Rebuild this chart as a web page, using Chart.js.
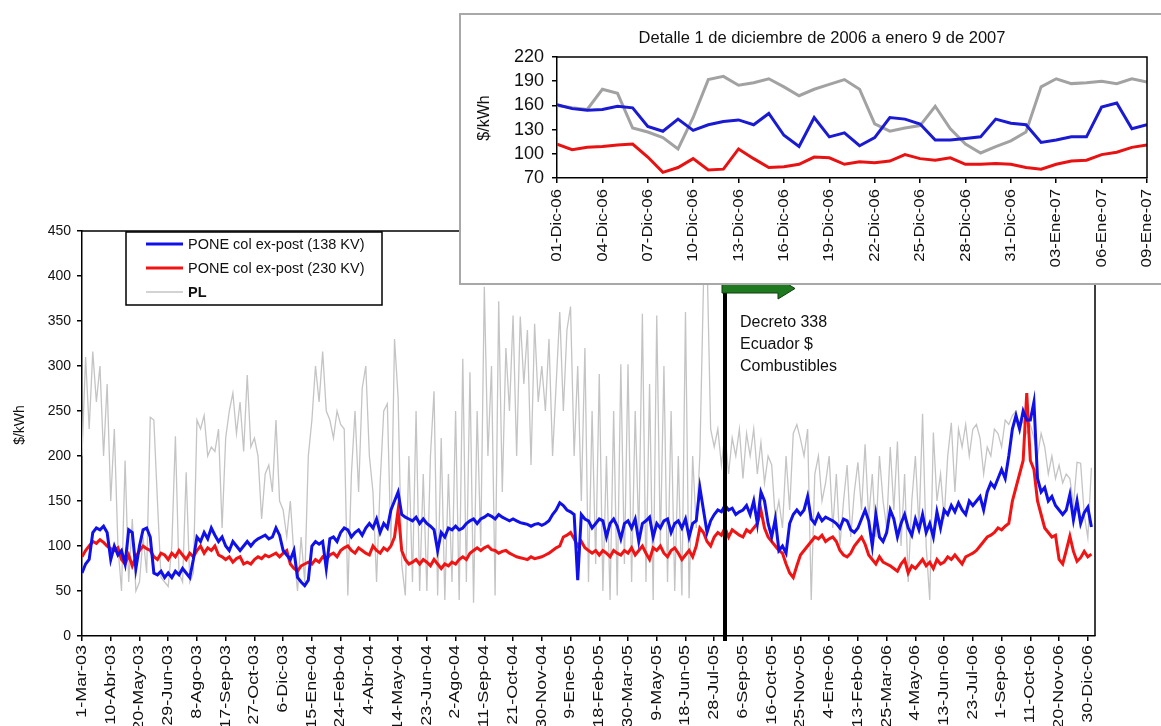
<!DOCTYPE html>
<html><head><meta charset="utf-8">
<script src="https://cdn.jsdelivr.net/npm/chart.js@4.4.0/dist/chart.umd.min.js"></script>
<style>
html,body{margin:0;padding:0;background:#fff;width:1161px;height:726px;overflow:hidden;}
#main{position:absolute;left:0;top:0;}
#insetBox{position:absolute;left:459px;top:13px;width:720px;height:268px;border:2px solid #a8a8a8;background:#fff;}
#inset{position:absolute;left:0;top:0;}
</style></head><body>
<canvas id="main" width="1161" height="726"></canvas>
<div id="insetBox"><canvas id="inset" width="700" height="268"></canvas></div>
<script>
// ---------- DATA ----------
const mainTickLabels = ['1-Mar-03','10-Abr-03','20-May-03','29-Jun-03','8-Ago-03','17-Sep-03','27-Oct-03','6-Dic-03','15-Ene-04','24-Feb-04','4-Abr-04','14-May-04','23-Jun-04','2-Ago-04','11-Sep-04','21-Oct-04','30-Nov-04','9-Ene-05','18-Feb-05','30-Mar-05','9-May-05','18-Jun-05','28-Jul-05','6-Sep-05','16-Oct-05','25-Nov-05','4-Ene-06','13-Feb-06','25-Mar-06','4-May-06','13-Jun-06','23-Jul-06','1-Sep-06','11-Oct-06','20-Nov-06','30-Dic-06'];
const tickStepDays = 40;
const sampleStepDays = 5;
const totalDays = 1410;
const seriesNames = ['PONE col ex-post (138 KV)','PONE col ex-post (230 KV)','PL'];
const mainYTicks = [0,50,100,150,200,250,300,350,400,450];

const blueMain = [
70,80,85,115,120,118,122,115,
85,100,90,95,80,118,115,75,
100,118,120,110,70,68,72,65,
70,65,72,68,75,70,65,85,
110,105,115,108,120,112,105,110,
100,95,105,100,95,100,105,100,
105,108,110,112,108,110,120,112,
95,90,85,95,65,60,56,62,
100,105,102,105,75,108,110,105,
115,120,118,110,115,118,112,120,
125,120,130,115,125,120,140,150,
160,135,132,130,128,132,125,130,
125,122,118,95,115,110,120,118,
122,118,120,125,128,130,125,130,
132,135,133,130,135,132,130,128,
130,128,126,125,124,122,124,125,
123,125,128,135,140,148,145,140,
138,135,62,135,130,128,120,125,
130,128,110,125,130,122,108,125,
128,120,130,105,125,128,132,110,
125,120,128,130,115,125,128,120,
130,110,125,128,165,140,115,128,
135,140,138,145,140,142,135,138,
140,145,135,150,125,160,150,125,
110,130,95,100,92,125,135,140,
135,140,155,130,125,135,128,132,
130,128,125,120,130,128,118,115,
120,130,140,128,100,135,110,105,
115,140,130,110,125,135,120,112,
130,118,135,115,125,110,138,120,
140,135,145,138,148,140,135,150,
145,150,155,140,160,170,165,175,
185,175,200,230,245,230,250,240,
240,260,175,160,165,150,155,145,
140,135,140,157,129,150,125,137,
143,121];

const redMain = [
88,95,100,105,103,107,104,100,
97,95,98,85,80,90,78,88,
95,100,97,95,88,85,92,90,
85,92,88,95,90,85,92,88,
95,100,92,98,95,100,90,88,
85,88,82,86,88,80,82,80,
85,88,86,90,88,90,92,88,
92,95,80,75,72,78,80,82,
80,85,82,88,85,90,92,88,
95,98,100,95,92,98,95,92,
90,100,95,92,98,95,100,110,
140,95,85,80,82,85,80,85,
82,78,85,80,75,80,78,82,
80,85,88,85,92,95,98,95,
98,100,96,95,92,94,95,92,
90,88,87,86,85,88,86,87,
88,90,92,95,98,100,110,112,
115,108,100,105,98,95,92,95,
90,95,92,88,95,92,90,95,
92,98,90,95,100,92,85,98,
95,100,92,88,95,98,92,85,
90,95,88,100,120,115,105,100,
110,115,112,120,110,118,115,112,
110,118,115,120,125,140,120,110,
105,100,95,92,80,70,65,78,
90,95,100,105,110,108,112,105,
108,110,105,95,90,88,92,100,
105,110,102,90,85,80,88,82,
80,78,75,72,80,85,70,78,
75,80,85,78,82,75,85,80,
82,88,85,90,85,80,88,90,
92,95,100,105,110,112,115,120,
118,122,125,150,165,180,195,270,
195,185,150,135,120,115,110,112,
85,80,95,111,94,83,87,94,
88,91];

const grayMain = [
200,310,230,316,260,300,200,280,
150,230,100,50,195,60,130,50,
60,110,70,243,240,150,65,60,
55,100,222,70,60,182,60,70,
240,230,245,200,210,205,230,120,
220,250,270,225,260,205,290,210,
220,200,130,180,190,160,240,150,
140,110,150,90,50,110,60,200,
240,300,260,316,250,240,220,250,
235,230,45,180,250,160,275,300,
200,160,60,170,250,258,100,330,
265,80,45,200,60,250,50,180,
50,200,272,45,220,40,180,60,
250,40,308,60,293,37,250,100,
388,200,300,45,372,160,320,250,
356,200,355,280,340,190,347,260,
300,250,330,200,280,360,250,340,
366,200,300,150,320,60,250,80,
291,50,200,40,250,45,302,80,
302,60,250,110,358,60,280,40,
356,100,300,60,250,50,200,45,
360,42,200,120,200,390,420,230,
210,230,190,225,180,220,200,230,
175,225,200,230,180,215,170,200,
190,130,150,120,200,140,225,235,
219,200,230,40,180,200,150,170,
200,120,180,100,150,190,110,160,
193,140,213,130,180,110,200,150,
120,210,140,216,100,180,60,150,
200,120,247,100,40,226,150,180,
130,200,237,160,230,210,235,200,
230,235,220,180,210,200,230,225,
210,240,235,245,250,230,240,225,
235,220,200,225,210,180,200,175,
190,170,180,175,145,193,192,135,
109,187];

const eventDay = 895;
const annotationLines = ['Decreto 338','Ecuador $','Combustibles'];

// inset: 1 Dec 2006 .. 9 Jan 2007 (daily)
const insetTitle = 'Detalle 1 de diciembre de 2006 a enero 9 de 2007';
const insetTickLabels = ['01-Dic-06','04-Dic-06','07-Dic-06','10-Dic-06','13-Dic-06','16-Dic-06','19-Dic-06','22-Dic-06','25-Dic-06','28-Dic-06','31-Dic-06','03-Ene-07','06-Ene-07','09-Ene-07'];
const insetTickStep = 3;
const insetYTicks = [70,100,130,160,190,220];
const insetGray = [160,157,155,180,175,132,127,120,106,145,192,196,185,188,193,183,172,180,186,192,180,137,128,132,135,159,131,112,101,109,116,127,183,193,187,188,190,187,193,189];
const insetBlue = [161,156,154,155,159,157,134,128,143,129,136,140,142,136,150,123,109,145,121,126,110,120,145,143,137,117,117,119,121,143,138,136,114,117,121,121,158,163,131,136];
const insetRed = [112,105,108,109,111,112,96,77,83,94,80,81,106,94,83,84,87,96,95,87,90,89,91,99,94,92,95,87,87,88,87,83,81,87,91,92,99,102,108,111];
const yTitle = '$/kWh';

// ---------- STYLE ----------
const FONT = "'Liberation Sans', Arial, Helvetica, sans-serif";
const C_BLUE = '#1010e8', C_RED = '#f01414', C_GRAY = '#c4c4c4', C_GRAY_IN = '#a2a2a2';

const toPts = (arr, step) => arr.map((v, i) => ({x: i * step, y: v}));

const axisGrid = {drawOnChartArea:false, drawTicks:true, tickLength:5, color:'#000', lineWidth:1.5};
const axisBorder = {display:true, color:'#000', width:1.5};

// draws rotated x labels (stretched along the text, like the source image)
function drawXLabels(chart, labels, offset, size, stretch){
  const ctx = chart.ctx, xs = chart.scales.x, a = chart.chartArea;
  ctx.save();
  ctx.fillStyle = '#111'; ctx.font = size + 'px ' + FONT;
  ctx.textAlign = 'right'; ctx.textBaseline = 'middle';
  xs.ticks.forEach((t, i) => {
    const x = xs.getPixelForValue(t.value);
    ctx.save(); ctx.translate(x, a.bottom + offset); ctx.rotate(-Math.PI/2); ctx.scale(stretch, 1);
    ctx.fillText(labels[i], 0, 0); ctx.restore();
  });
  ctx.restore();
}

const mainDecor = {
  id:'mainDecor',
  afterDraw(chart){
    const ctx = chart.ctx, a = chart.chartArea, xs = chart.scales.x;
    drawXLabels(chart, mainTickLabels, 9, 14, 1.28);
    ctx.save();
    // frame
    ctx.strokeStyle = '#000'; ctx.lineWidth = 1.5;
    ctx.beginPath(); ctx.moveTo(a.left, a.top); ctx.lineTo(a.right, a.top); ctx.lineTo(a.right, a.bottom); ctx.stroke();
    // y title
    ctx.fillStyle = '#111'; ctx.font = '14px ' + FONT; ctx.textAlign = 'center'; ctx.textBaseline = 'middle';
    ctx.save(); ctx.translate(20, 425); ctx.rotate(-Math.PI/2); ctx.fillText(yTitle, 0, 0); ctx.restore();
    // event line
    const ex = xs.getPixelForValue(eventDay);
    ctx.strokeStyle = '#000'; ctx.lineWidth = 4;
    ctx.beginPath(); ctx.moveTo(ex, 283); ctx.lineTo(ex, a.bottom + 5); ctx.stroke();
    // arrow
    ctx.fillStyle = '#1f7a1f'; ctx.strokeStyle = '#0c3e0c'; ctx.lineWidth = 1;
    ctx.beginPath();
    ctx.moveTo(ex - 3, 284); ctx.lineTo(ex + 53, 284); ctx.lineTo(ex + 53, 278);
    ctx.lineTo(ex + 70, 288.5); ctx.lineTo(ex + 53, 299); ctx.lineTo(ex + 53, 293);
    ctx.lineTo(ex - 3, 293); ctx.closePath(); ctx.fill(); ctx.stroke();
    // annotation
    ctx.fillStyle = '#111'; ctx.font = '16px ' + FONT; ctx.textAlign = 'left'; ctx.textBaseline = 'middle';
    annotationLines.forEach((t, i) => ctx.fillText(t, 740, 323 + i * 22));
    // legend box
    ctx.fillStyle = '#fff'; ctx.fillRect(126, 232, 256, 73);
    ctx.strokeStyle = '#000'; ctx.lineWidth = 1.5; ctx.strokeRect(126, 232, 256, 73);
    chart.data.datasets.forEach((ds, i) => {
      const y = 244 + i * 24;
      ctx.strokeStyle = ds.borderColor; ctx.lineWidth = ds.borderWidth;
      ctx.beginPath(); ctx.moveTo(146, y); ctx.lineTo(183, y); ctx.stroke();
      ctx.fillStyle = '#111'; ctx.font = (i === 2 ? 'bold ' : '') + '14.5px ' + FONT;
      ctx.fillText(ds.label, 188, y + 1);
    });
    ctx.restore();
  }
};

new Chart(document.getElementById('main'), {
  type:'line',
  data:{datasets:[
    {label:seriesNames[0], data:toPts(blueMain, sampleStepDays), borderColor:C_BLUE, borderWidth:3, pointRadius:0, tension:0},
    {label:seriesNames[1], data:toPts(redMain, sampleStepDays), borderColor:C_RED, borderWidth:3, pointRadius:0, tension:0},
    {label:seriesNames[2], data:toPts(grayMain, sampleStepDays), borderColor:C_GRAY, borderWidth:1.3, pointRadius:0, tension:0}
  ]},
  options:{
    responsive:false, animation:false, devicePixelRatio:1,
    layout:{padding:{left:0, top:231, right:66, bottom:0}},
    plugins:{legend:{display:false}, tooltip:{enabled:false}, title:{display:false}},
    scales:{
      x:{type:'linear', min:0, max:totalDays,
        afterBuildTicks:s => { s.ticks = mainTickLabels.map((_, i) => ({value:i * tickStepDays})); },
        ticks:{display:false, autoSkip:false, callback:(v, i) => mainTickLabels[i]},
        grid:axisGrid, border:axisBorder,
        afterFit:s => { s.height = 90; }
      },
      y:{min:0, max:450,
        afterBuildTicks:s => { s.ticks = mainYTicks.map(v => ({value:v})); },
        ticks:{autoSkip:false, padding:6, color:'#111', font:{family:FONT, size:14}},
        grid:axisGrid, border:axisBorder,
        afterFit:s => { s.width = 82; }
      }
    }
  },
  plugins:[mainDecor]
});

const insetDecor = {
  id:'insetDecor',
  afterDraw(chart){
    const ctx = chart.ctx, a = chart.chartArea;
    drawXLabels(chart, insetTickLabels, 11, 15, 1.12);
    ctx.save();
    ctx.strokeStyle = '#000'; ctx.lineWidth = 1.5;
    ctx.beginPath(); ctx.moveTo(a.left, a.top); ctx.lineTo(a.right, a.top); ctx.lineTo(a.right, a.bottom); ctx.stroke();
    ctx.fillStyle = '#111'; ctx.textAlign = 'center'; ctx.textBaseline = 'middle';
    ctx.font = '16.5px ' + FONT; ctx.fillText(insetTitle, 361, 23);
    ctx.save(); ctx.translate(24, 103); ctx.rotate(-Math.PI/2); ctx.font = '16px ' + FONT; ctx.fillText(yTitle, 0, 0); ctx.restore();
    ctx.restore();
  }
};

new Chart(document.getElementById('inset'), {
  type:'line',
  data:{datasets:[
    {label:seriesNames[0], data:toPts(insetBlue, 1), borderColor:'#1a1ad2', borderWidth:3, pointRadius:0, tension:0},
    {label:seriesNames[1], data:toPts(insetRed, 1), borderColor:'#e81212', borderWidth:3, pointRadius:0, tension:0},
    {label:seriesNames[2], data:toPts(insetGray, 1), borderColor:C_GRAY_IN, borderWidth:3, pointRadius:0, tension:0}
  ]},
  options:{
    responsive:false, animation:false, devicePixelRatio:1,
    layout:{padding:{left:0, top:42, right:14, bottom:0}},
    plugins:{legend:{display:false}, tooltip:{enabled:false}},
    scales:{
      x:{type:'linear', min:0, max:insetGray.length - 1,
        afterBuildTicks:s => { s.ticks = insetTickLabels.map((_, i) => ({value:i * insetTickStep})); },
        ticks:{display:false, autoSkip:false, callback:(v, i) => insetTickLabels[i]},
        grid:axisGrid, border:axisBorder,
        afterFit:s => { s.height = 105; }
      },
      y:{min:70, max:220,
        afterBuildTicks:s => { s.ticks = insetYTicks.map(v => ({value:v})); },
        ticks:{autoSkip:false, padding:8, color:'#111', font:{family:FONT, size:18}},
        grid:axisGrid, border:axisBorder,
        afterFit:s => { s.width = 96; }
      }
    }
  },
  plugins:[insetDecor]
});
</script>
</body></html>
